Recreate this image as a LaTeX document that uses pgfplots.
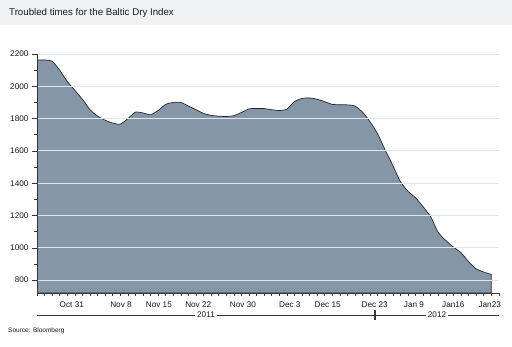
\documentclass[border=0pt]{standalone}
\usepackage{pgfplots}
\pgfplotsset{compat=1.18}
\usepackage{fontspec}
\setmainfont{Liberation Sans}
\definecolor{bfill}{RGB}{133,151,167}
\definecolor{band}{RGB}{241,242,243}
\definecolor{gridc}{RGB}{224,231,238}
\definecolor{axc}{RGB}{55,55,55}
\begin{document}
\begin{tikzpicture}[x=1pt,y=1pt]
\fill[white] (0,0) rectangle (512,346);
\fill[band] (0,321) rectangle (512,346);
\node[anchor=west,font=\fontsize{9.7}{11}\selectfont,text=black!90,inner sep=0pt] at (9,333) {Troubled times for the Baltic Dry Index};
\begin{axis}[
  at={(37pt,53pt)}, anchor=south west, scale only axis,
  width=461.8pt, height=239pt,
  xmin=0, xmax=61, ymin=720, ymax=2200,
  axis x line*=bottom, axis y line*=left,
  axis line style={-, draw=axc, line width=0.6pt},
  axis on top,
  tick align=outside,
  major tick length=5pt, minor tick length=3pt,
  tick style={draw=axc, line width=0.5pt},
  xtick={4.6,11.1,16.1,21.3,27.2,33.4,38.4,44.6,49.8,55,59.8},
  xticklabels={Oct 31,Nov 8,Nov 15,Nov 22,Nov 30,Dec 3,Dec 15,Dec 23,Jan 9,Jan16,Jan23},
  major x tick style={draw=none},
  minor xtick={0,...,61},
  ytick={800,1000,...,2200},
  minor ytick={900,1100,...,2100},
  ymajorgrids,
  major grid style={draw=gridc, line width=0.8pt},
  ticklabel style={font=\fontsize{8.2}{9}\selectfont, text=black!90},
  /pgf/number format/assume math mode=true,
  yticklabel style={/pgf/number format/1000 sep={}},
]
\addplot[fill=bfill, draw=black!85, line width=0.7pt, smooth, tension=0.35] coordinates {
(0,2163)(1,2163)(2,2155)(3,2100)(4,2030)(5,1975)(6,1920)(7,1855)(8,1815)(9,1790)
(10,1772)(11,1765)(12,1800)(13,1840)(14,1835)(15,1824)(16,1850)(17,1888)(18,1900)(19,1900)
(20,1878)(21,1855)(22,1832)(23,1820)(24,1815)(25,1813)(26,1818)(27,1838)(28,1860)(29,1863)
(30,1862)(31,1855)(32,1850)(33,1858)(34,1905)(35,1925)(36,1928)(37,1920)(38,1905)(39,1888)
(40,1886)(41,1885)(42,1878)(43,1840)(44,1780)(45,1705)(46,1605)(47,1510)(48,1410)(49,1350)
(50,1310)(51,1254)(52,1192)(53,1095)(54,1045)(55,1005)(56,970)(57,915)(58,870)(59,850)
(60,835)
} \closedcycle;
\end{axis}
\draw[axc, line width=0.6pt] (37,31) -- (499,31);
\node[fill=white, inner sep=2pt, font=\fontsize{8.2}{9}\selectfont, text=black!90] at (206,31) {2011};
\node[fill=white, inner sep=2pt, font=\fontsize{8.2}{9}\selectfont, text=black!90] at (437,31) {2012};
\draw[axc, line width=1.1pt] (375,26) -- (375,36);
\node[anchor=west, inner sep=0pt, font=\fontsize{6.5}{8}\selectfont, text=black!90] at (8,15) {Source: Bloomberg};
\end{tikzpicture}
\end{document}
